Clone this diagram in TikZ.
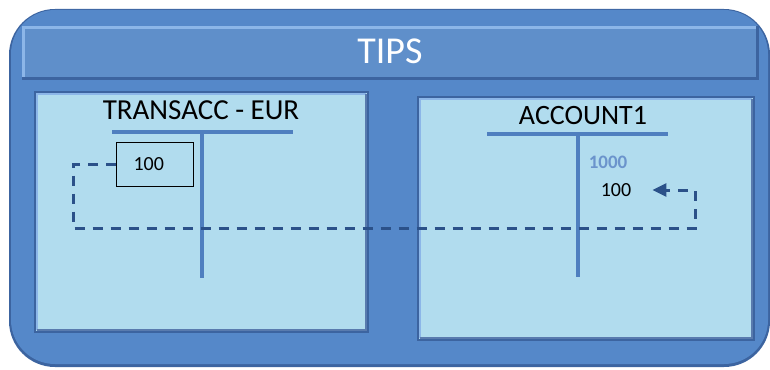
\documentclass[tikz,border=0pt]{standalone}
\usepackage{fontspec}
\setmainfont{Carlito}
\usetikzlibrary{arrows.meta}
\definecolor{frameblue}{HTML}{5588C9}
\definecolor{barblue}{HTML}{5F8FCA}
\definecolor{paneblue}{HTML}{B1DCEE}
\definecolor{tblue}{HTML}{4F7FBF}
\definecolor{flowblue}{HTML}{2B5189}
\definecolor{edgedark}{HTML}{3C64A0}
\definecolor{edgelight}{HTML}{8CB6E8}
\definecolor{balblue}{HTML}{6B94CC}

\begin{document}
\begin{tikzpicture}[x=1pt,y=-1pt,
  tbar/.style={tblue,line width=4.5pt},
  flow/.style={flowblue,line width=3pt,dash pattern=on 10pt off 8pt},
  entry/.style={font=\fontsize{20}{20}\selectfont,inner sep=2pt}]
\useasboundingbox (0,0) rectangle (770,369);
% outer frame
\fill[edgedark] (9,9) [rounded corners=46pt] rectangle (770,367);
\fill[frameblue] (11,10) [rounded corners=44pt] rectangle (768,364);
% title bar
\fill[barblue] (22,26) rectangle (759,80);
\draw[edgelight,line width=3pt] (23.5,80) |- (759,27.5);
\draw[edgedark,line width=3pt] (22,78.5) -| (757.5,26);
\node[font=\fontsize{38}{38}\selectfont,text=white] (title) at (390,51) {TIPS};
% panels
\foreach \x/\y/\X/\Y in {35/92/368/332,418/97/754/340}{
  \fill[paneblue] (\x,\y) rectangle (\X,\Y);
  \draw[edgedark,line width=1.2pt] (\x,\y) rectangle (\X,\Y);
  \draw[edgelight,line width=2.5pt] (\x+2,\Y-2) |- (\X-2,\y+2);
  \draw[edgedark!85,line width=2.5pt] (\x+2,\Y-2) -| (\X-2,\y+2);
}
% T accounts
\node[font=\fontsize{29}{29}\selectfont] (acc1) at (201,110) {TRANSACC - EUR};
\draw[tbar] (112,132) -- (293,132);
\draw[tbar] (202,132) -- (202,278);
\node[font=\fontsize{28}{28}\selectfont] (acc2) at (583,116) {ACCOUNT1};
\draw[tbar] (487,134) -- (668,134);
\draw[tbar] (578,134) -- (578,277);
% entries
\node[entry,draw,line width=1pt,anchor=north west,minimum width=77pt,minimum height=44pt,
  text width=43pt,inner xsep=17pt] (src) at (116,142) {100};
\node[entry,font=\bfseries\fontsize{19}{19}\selectfont,text=balblue] (bal) at (608,162) {1000};
\node[entry] (dst) at (616,190) {100};
% transfer
\coordinate (c1) at (73,228);
\coordinate (c2) at (695,228);
\draw[flow,-{Stealth[length=14pt,width=13pt,inset=0pt]},shorten >=19pt] (src.west) -| (c1) -- (c2) |- (dst.east);
\end{tikzpicture}
\end{document}
